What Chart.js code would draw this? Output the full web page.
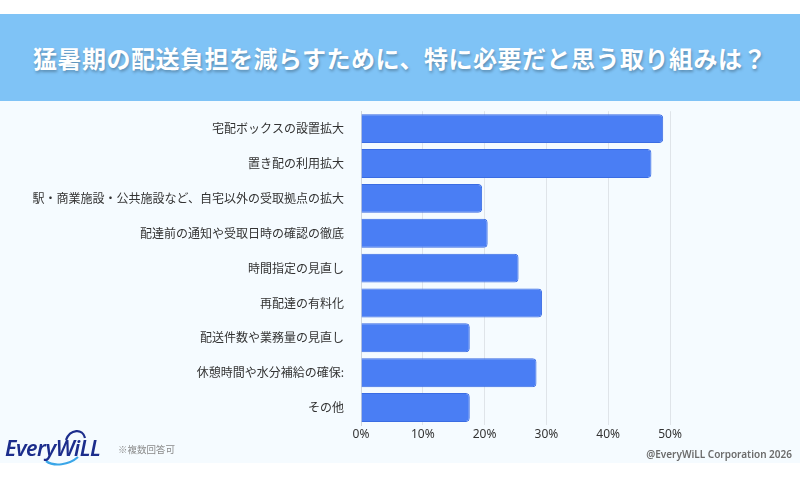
<!DOCTYPE html>
<html lang="ja">
<head>
<meta charset="utf-8">
<script src="https://cdn.jsdelivr.net/npm/chart.js@4"></script>
<style>
  html, body { margin: 0; padding: 0; width: 800px; height: 478px; background: #ffffff; overflow: hidden;
    font-family: "Noto Sans CJK JP", "Noto Sans", sans-serif; }
  #header { position: absolute; left: 0; top: 14px; width: 800px; height: 87px; background: #7fc3f6;
    display: flex; align-items: center; justify-content: center; }
  #header h1 { margin: 0; color: #ffffff; font-size: 24px; font-weight: 700; letter-spacing: 0.5px;
    text-shadow: 1px 2px 3px rgba(0,0,0,0.28); }
  #panel { position: absolute; left: 0; top: 101px; width: 800px; height: 362px; background: #f5fbff; }
  #wrap { position: absolute; left: 0; top: 95px; width: 800px; height: 350px; }
  #note { position: absolute; left: 118px; top: 442px; font-size: 9.5px; color: #8a8a8a; }
  #copy { position: absolute; right: 8px; top: 447px; font-size: 10px; color: #6b6b6b; font-weight: 600;
    font-family: "Noto Sans", "Open Sans", sans-serif; }
  #logo { position: absolute; left: 4px; top: 426px; width: 104px; height: 40px; }
  #logo span { position: absolute; left: 1px; top: 7px; font-family: "Noto Sans", sans-serif; font-style: italic;
    font-weight: 600; font-size: 21.5px; color: #1c2d8c; letter-spacing: -0.5px; }
</style>
</head>
<body>
<div id="header"><h1>猛暑期の配送負担を減らすために、特に必要だと思う取り組みは？</h1></div>
<div id="panel"></div>
<div id="wrap"><canvas id="c"></canvas></div>
<div id="logo">
  <svg width="104" height="40" style="position:absolute;left:0;top:0">
    <path d="M62 14 C 66 3, 79 2, 81 12" stroke="#1c2d8c" stroke-width="2.2" fill="none"/>
    <path d="M42 35 C 50 41, 65 39, 74 31" stroke="#3aa6e8" stroke-width="2.2" fill="none"/>
  </svg>
  <span>EveryWiLL</span>
</div>
<div id="note">※複数回答可</div>
<div id="copy">@EveryWiLL Corporation 2026</div>
<script>
const categories = [
  "宅配ボックスの設置拡大",
  "置き配の利用拡大",
  "駅・商業施設・公共施設など、自宅以外の受取拠点の拡大",
  "配達前の通知や受取日時の確認の徹底",
  "時間指定の見直し",
  "再配達の有料化",
  "配送件数や業務量の見直し",
  "休憩時間や水分補給の確保:",
  "その他"
];
const values = [48.9, 47.0, 19.6, 20.5, 25.5, 29.3, 17.6, 28.4, 17.6];
const tickValues = [0, 10, 20, 30, 40, 50];

new Chart(document.getElementById('c'), {
  type: 'bar',
  data: {
    labels: categories,
    datasets: [{
      data: values,
      backgroundColor: '#4a7ef4',
      borderColor: '#3a6ce3',
      borderWidth: 1,
      borderRadius: 4,
      categoryPercentage: 1,
      barPercentage: 0.83
    }]
  },
  options: {
    indexAxis: 'y',
    responsive: true,
    maintainAspectRatio: false,
    animation: false,
    layout: { padding: { top: 7, right: 130, bottom: 0, left: 0 } },
    plugins: { legend: { display: false }, tooltip: { enabled: false } },
    scales: {
      x: {
        min: 0, max: 50,
        afterBuildTicks: (s) => { s.ticks = tickValues.map(v => ({ value: v })); },
        afterFit: (s) => { s.height = 20; },
        grid: { color: '#dfe4e9', drawTicks: false },
        border: { display: false },
        ticks: { padding: 2, color: '#333333', font: { size: 12, family: '"Noto Sans", sans-serif' },
          callback: (v) => v + '%' }
      },
      y: {
        afterFit: (s) => { s.width = 361; },
        grid: { display: false },
        border: { display: true, color: '#cfd5db', width: 1 },
        ticks: { padding: 9, color: '#333333', font: { size: 12, family: '"Noto Sans CJK JP", sans-serif' } }
      }
    }
  }
});
</script>
</body>
</html>
